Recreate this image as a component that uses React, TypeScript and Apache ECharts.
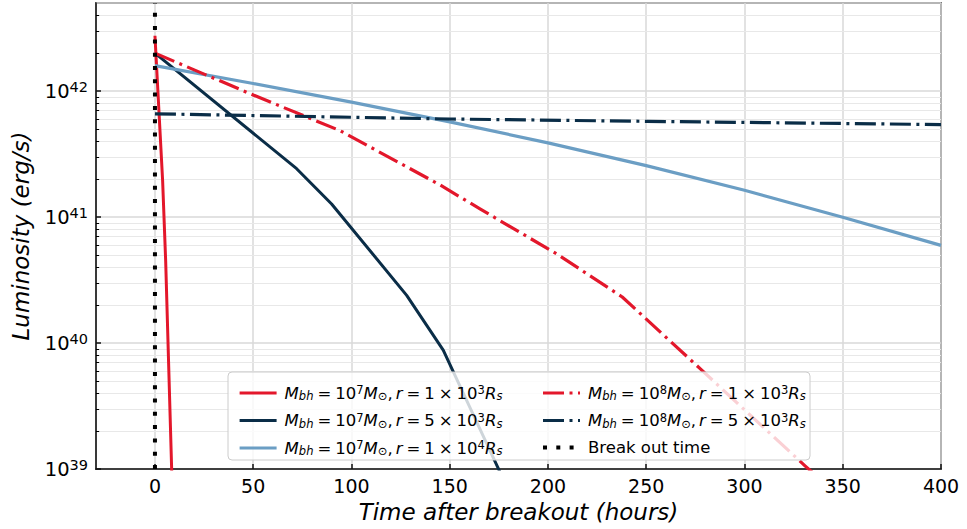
import React, { useEffect, useRef } from 'react';
import * as echarts from 'echarts';

const FONT = 'DejaVu Sans';

// Series names (legend)
const seriesNames = [
  'Mbh=1e7, r=1e3',
  'Mbh=1e7, r=5e3',
  'Mbh=1e7, r=1e4',
  'Mbh=1e8, r=1e3',
  'Mbh=1e8, r=5e3',
  'Break out time',
];

// Legend labels (rich text)
const legendLabels = [
  '{i|M}{sub|bh}{sp| }{n|=}{sp| }{n|10}{sup|7}{i|M}{sub|⊙}{n|,}{sc| }{i|r}{sp| }{n|=}{sp| }{n|1}{sp| }{n|×}{sp| }{n|10}{sup|3}{i|R}{sub|s}',
  '{i|M}{sub|bh}{sp| }{n|=}{sp| }{n|10}{sup|7}{i|M}{sub|⊙}{n|,}{sc| }{i|r}{sp| }{n|=}{sp| }{n|5}{sp| }{n|×}{sp| }{n|10}{sup|3}{i|R}{sub|s}',
  '{i|M}{sub|bh}{sp| }{n|=}{sp| }{n|10}{sup|7}{i|M}{sub|⊙}{n|,}{sc| }{i|r}{sp| }{n|=}{sp| }{n|1}{sp| }{n|×}{sp| }{n|10}{sup|4}{i|R}{sub|s}',
  '{i|M}{sub|bh}{sp| }{n|=}{sp| }{n|10}{sup|8}{i|M}{sub|⊙}{n|,}{sc| }{i|r}{sp| }{n|=}{sp| }{n|1}{sp| }{n|×}{sp| }{n|10}{sup|3}{i|R}{sub|s}',
  '{i|M}{sub|bh}{sp| }{n|=}{sp| }{n|10}{sup|8}{i|M}{sub|⊙}{n|,}{sc| }{i|r}{sp| }{n|=}{sp| }{n|5}{sp| }{n|×}{sp| }{n|10}{sup|3}{i|R}{sub|s}',
  '{n|Break out time}',
];

// Data (hours, erg/s)
const s1X = [0, 3.9, 5.45, 8.5, 10];
const s1Y = [2.75e42, 1.95e41, 4.5e40, 1.0e39, 1.6e38];

const s2X = [0, 72.1, 89.9, 128.1, 146.7, 174.7, 180];
const s2Y = [2.0e42, 2.42e41, 1.27e41, 2.39e40, 8.77e39, 1.01e39, 6.7e38];

const s3X = [0, 50, 100, 150, 200, 250, 300, 350, 400];
const s3Y = [1.59e42, 1.148e42, 8.17e41, 5.7e41, 3.88e41, 2.56e41, 1.63e41, 9.95e40, 5.96e40];

const s4X = [0, 50, 94.2, 145, 165.4, 204.4, 237.8, 277.7, 330.8, 340];
const s4Y = [2.0e42, 9.3e41, 4.85e41, 1.8e41, 1.16e41, 5.1e40, 2.32e40, 6.2e39, 1.06e39, 7.9e38];

const s5X = [0, 150, 250, 400];
const s5Y = [6.6e41, 6.0e41, 5.75e41, 5.42e41];

const breakX = [0, 0];
const breakY = [1e39, 5e42];

// Axis ranges and minor (log) grid values
const xMin = -30;
const xMax = 400;
const yMin = 1e39;
const yMax = 5e42;
const decades = [39, 40, 41, 42];
const minorMultipliers = [2, 3, 4, 5, 6, 7, 8, 9];

const RED = '#e3172b';
const NAVY = '#0a2d47';
const LIGHT = '#6b9ec4';

const zip = (xs: number[], ys: number[]) => xs.map((x, i) => [x, ys[i]]);

export default function App() {
  const ref = useRef<HTMLDivElement>(null);

  useEffect(() => {
    if (!ref.current) return;
    const chart = echarts.init(ref.current, undefined, { renderer: 'svg' });

    const minorVals: number[] = [];
    decades.forEach((d) => {
      minorMultipliers.forEach((m) => {
        const v = m * Math.pow(10, d);
        if (v < yMax) minorVals.push(v);
      });
    });

    const minorLines: any[] = minorVals.map((v) => ({ yAxis: v }));
    const minorTicks: any[] = minorVals.map((v) => [
      { coord: [xMin, v], lineStyle: { color: '#000', width: 1, type: 'solid' } },
      { coord: [xMin + 1.6, v] },
    ]);

    const MF = 16.5;
    const SF = 11.5;
    const legendRich = {
      n: { fontFamily: FONT, fontSize: MF, lineHeight: 18, color: '#000' },
      i: { fontFamily: FONT, fontSize: MF, lineHeight: 18, fontStyle: 'italic', color: '#000' },
      sup: { fontFamily: FONT, fontSize: SF, lineHeight: 10, verticalAlign: 'top', color: '#000' },
      sub: { fontFamily: FONT, fontSize: SF, lineHeight: 9, fontStyle: 'italic', verticalAlign: 'bottom', color: '#000' },
      sp: { fontFamily: FONT, fontSize: MF, lineHeight: 18, width: 4 },
      sc: { fontFamily: FONT, fontSize: MF, lineHeight: 18, width: 3 },
    };

    const legendFormatter = (name: string) => legendLabels[seriesNames.indexOf(name)];

    const legendCommon = {
      orient: 'vertical',
      top: 379,
      itemWidth: 37,
      itemHeight: 14,
      itemGap: 9.5,
      selectedMode: false,
      formatter: legendFormatter,
      itemStyle: { color: 'transparent', borderColor: 'transparent', borderWidth: 0 },
      lineStyle: { width: 3.2 },
      textStyle: { fontFamily: FONT, fontSize: MF, color: '#000', rich: legendRich, padding: [0, 0, 0, 3] },
    };

    const lineSeries = (name: string, xs: number[], ys: number[], color: string, type: any, width: number, z: number) => ({
      type: 'line',
      name,
      data: zip(xs, ys),
      symbol: 'none',
      showSymbol: false,
      clip: true,
      z,
      lineStyle: { color, width, type, cap: 'butt', join: 'round' },
      itemStyle: { color },
    });

    const option: any = {
      animation: false,
      backgroundColor: '#fff',
      grid: {
        left: 96,
        right: 26,
        top: 3,
        bottom: 60,
        show: true,
        borderColor: '#111',
        borderWidth: 1.5,
        backgroundColor: 'transparent',
      },
      legend: [
        { ...legendCommon, left: 233, data: seriesNames.slice(0, 3) },
        {
          ...legendCommon,
          left: 536,
          data: [seriesNames[3], seriesNames[4], { name: seriesNames[5], lineStyle: { width: 4 } }],
        },
      ],
      graphic: {
        elements: [
          {
            type: 'rect',
            z: 3,
            shape: { x: 228, y: 372, width: 582, height: 88, r: 4 },
            style: { fill: 'rgba(255,255,255,0.8)', stroke: '#cccccc', lineWidth: 1 },
            silent: true,
          },
        ],
      },
      xAxis: {
        type: 'value',
        min: xMin,
        max: xMax,
        splitNumber: 9,
        axisLine: { show: true, onZero: false, lineStyle: { color: '#111', width: 1.5 } },
        axisTick: { show: true, inside: true, length: 5, lineStyle: { color: '#111', width: 1.5 } },
        axisLabel: { fontFamily: FONT, fontSize: 19, color: '#000', margin: 7, showMinLabel: false },
        splitLine: { show: true, lineStyle: { color: '#d9d9d9', width: 1.5 } },
        name: 'Time after breakout (hours)',
        nameLocation: 'middle',
        nameGap: 31,
        nameTextStyle: { fontFamily: FONT, fontSize: 23, fontStyle: 'italic', color: '#000' },
      },
      yAxis: {
        type: 'log',
        logBase: 10,
        min: yMin,
        max: yMax,
        axisLine: { show: true, onZero: false, lineStyle: { color: '#111', width: 1.5 } },
        axisTick: { show: true, inside: true, length: 5, lineStyle: { color: '#111', width: 1.5 } },
        axisLabel: {
          margin: 8,
          showMaxLabel: false,
          formatter: (v: number) => `{b|10}{s|${Math.round(Math.log10(v))}}`,
          rich: {
            b: { fontFamily: FONT, fontSize: 19.5, lineHeight: 24, color: '#000' },
            s: { fontFamily: FONT, fontSize: 14.5, lineHeight: 13, verticalAlign: 'top', color: '#000' },
          },
        },
        splitLine: { show: true, lineStyle: { color: '#d9d9d9', width: 1.5 } },
        name: 'Luminosity (erg/s)',
        nameLocation: 'middle',
        nameGap: 64,
        nameRotate: 90,
        nameTextStyle: { fontFamily: FONT, fontSize: 23, fontStyle: 'italic', color: '#000' },
      },
      series: [
        {
          type: 'line',
          name: '__minor__',
          data: [],
          z: 1,
          silent: true,
          markLine: {
            z: 1,
            silent: true,
            symbol: ['none', 'none'],
            label: { show: false },
            animation: false,
            lineStyle: { color: '#e8e8e8', width: 1, type: 'solid' },
            data: [...minorLines, ...minorTicks],
          },
        },
        lineSeries(seriesNames[0], s1X, s1Y, RED, 'solid', 3, 2),
        lineSeries(seriesNames[1], s2X, s2Y, NAVY, 'solid', 3, 2),
        lineSeries(seriesNames[2], s3X, s3Y, LIGHT, 'solid', 3.2, 2),
        lineSeries(seriesNames[3], s4X, s4Y, RED, [21, 5.5, 3, 5.5], 3.2, 2),
        lineSeries(seriesNames[4], s5X, s5Y, NAVY, [21, 5.5, 3, 5.5], 3.2, 2),
        lineSeries(seriesNames[5], breakX, breakY, '#000', [4, 9.3], 4, 2),
      ],
    };

    chart.setOption(option);
    return () => chart.dispose();
  }, []);

  return (
    <div
      ref={ref}
      style={{ position: 'fixed', left: 0, top: 0, width: 967, height: 529, background: '#fff' }}
    />
  );
}
